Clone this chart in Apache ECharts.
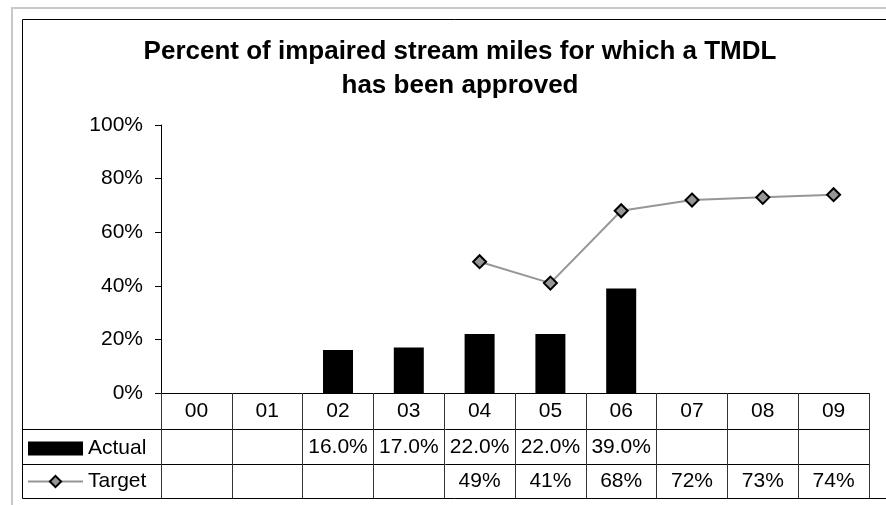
<!DOCTYPE html>
<html>
<head>
<meta charset="utf-8">
<script src="https://cdn.jsdelivr.net/npm/echarts@6/dist/echarts.min.js"></script>
<style>
html,body{margin:0;padding:0;background:#fff;}
#chart{width:886px;height:505px;}
</style>
</head>
<body>
<div id="chart"></div>
<script>
var categories = ['00','01','02','03','04','05','06','07','08','09'];
var actualValues = [null, null, 0.16, 0.17, 0.22, 0.22, 0.39, null, null, null];
var targetValues = [null, null, null, null, 0.49, 0.41, 0.68, 0.72, 0.73, 0.74];
var yTicks = [0, 0.2, 0.4, 0.6, 0.8, 1.0];
var titleText = 'Percent of impaired stream miles for which a TMDL\nhas been approved';

var FONT = '"Liberation Sans", Arial, sans-serif';

function fmtActual(v){ return v == null ? '' : (v*100).toFixed(1) + '%'; }
function fmtTarget(v){ return v == null ? '' : Math.round(v*100) + '%'; }

var chart = echarts.init(document.getElementById('chart'), null, {renderer:'canvas'});

var baseX = {
  type: 'category',
  data: categories,
  position: 'bottom',
  boundaryGap: true,
  axisLine: {show:false},
  axisTick: {show:false},
  splitLine: {show:false}
};

var option = {
  animation: false,
  backgroundColor: '#fff',
  title: {
    text: titleText,
    left: 460,
    top: 35,
    textAlign: 'center',
    padding: 0,
    textStyle: {fontFamily: FONT, fontSize: 26, fontWeight: 'bold', color: '#000', lineHeight: 34}
  },
  legend: {
    orient: 'vertical',
    left: 22,
    top: 433,
    itemWidth: 55,
    itemHeight: 14,
    itemGap: 12,
    textStyle: {fontFamily: FONT, fontSize: 21, color: '#000', lineHeight: 21},
    data: [
      {name: 'Actual', icon: 'rect'},
      {name: 'Target'}
    ]
  },
  grid: {left: 161, right: 17, top: 125, bottom: 112, containLabel: false},
  xAxis: [
    Object.assign({}, baseX, {
      axisLine: {show: true, lineStyle: {color: '#000', width: 1}},
      axisTick: {show: true, length: 105, lineStyle: {color: '#333', width: 1}},
      axisLabel: {show: true, margin: 18, verticalAlign: 'middle', interval: 0,
        fontFamily: FONT, fontSize: 21, color: '#000'}
    }),
    Object.assign({}, baseX, {
      axisLabel: {show: true, margin: 54, verticalAlign: 'middle', interval: 0,
        fontFamily: FONT, fontSize: 21, color: '#000',
        formatter: function(v, i){ return fmtActual(actualValues[i]); }}
    }),
    Object.assign({}, baseX, {
      axisLabel: {show: true, margin: 88, verticalAlign: 'middle', interval: 0,
        fontFamily: FONT, fontSize: 21, color: '#000',
        formatter: function(v, i){ return fmtTarget(targetValues[i]); }}
    })
  ],
  yAxis: {
    type: 'value',
    min: yTicks[0],
    max: yTicks[yTicks.length-1],
    interval: 0.2,
    axisLine: {show: true, lineStyle: {color: '#000', width: 1}},
    axisTick: {show: true, length: 6, lineStyle: {color: '#000'}},
    splitLine: {show: false},
    axisLabel: {margin: 18, fontFamily: FONT, fontSize: 21, color: '#000',
      formatter: function(v){ return Math.round(v*100) + '%'; }}
  },
  graphic: [
    {type:'rect', silent:true, shape:{x:12, y:8, width:900, height:600},
      style:{fill:'none', stroke:'#c8c8c8', lineWidth:2}},
    {type:'rect', silent:true, shape:{x:22.5, y:19.5, width:900, height:479},
      style:{fill:'none', stroke:'#000', lineWidth:1}},
    {type:'line', silent:true, shape:{x1:22.5, y1:429.5, x2:869, y2:429.5},
      style:{stroke:'#000', lineWidth:1}},
    {type:'line', silent:true, shape:{x1:22.5, y1:464.5, x2:869, y2:464.5},
      style:{stroke:'#000', lineWidth:1}}
  ],
  series: [
    {
      name: 'Actual',
      type: 'bar',
      data: actualValues,
      barWidth: 30,
      itemStyle: {color: '#000'}
    },
    {
      name: 'Target',
      type: 'line',
      data: targetValues,
      connectNulls: false,
      symbol: 'diamond',
      symbolSize: 13,
      lineStyle: {color: '#969696', width: 2},
      itemStyle: {color: '#969696', borderColor: '#000', borderWidth: 2}
    }
  ]
};
chart.setOption(option);
</script>
</body>
</html>
